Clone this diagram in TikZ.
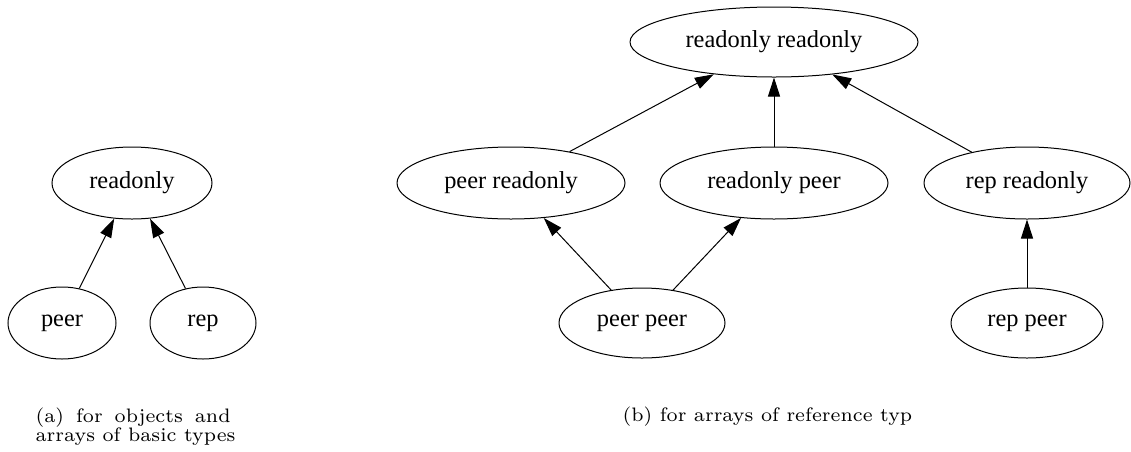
\documentclass[tikz,border=0pt]{standalone}
\usepackage{fontspec}
\newfontfamily\nodefont{Liberation Serif}
\usetikzlibrary{shapes.geometric,arrows.meta}
\begin{document}
\begin{tikzpicture}[x=1pt,y=-1pt,
  state/.style={ellipse, draw, line width=1pt, inner sep=0pt,
    font=\nodefont\fontsize{24.4}{28}\selectfont},
  edge/.style={line width=1pt, -{Triangle[length=19pt,width=12pt]}},
  caption/.style={font=\fontsize{7}{6.82}\selectfont, scale=2.786, inner sep=0pt}]
\useasboundingbox (0,0) rectangle (1131,451);

% (a) objects and arrays of basic types
\node[state, minimum width=160, minimum height=72] (ro)   at (132,183) {readonly};
\node[state, minimum width=108, minimum height=72] (peer) at (62,323)  {peer};
\node[state, minimum width=106, minimum height=72] (rep)  at (203,323) {rep};
\draw[edge] (peer) -- (ro);
\draw[edge] (rep) -- (ro);

% (b) arrays of reference types
\node[state, minimum width=288, minimum height=70] (rr)   at (774,42)   {readonly readonly};
\node[state, minimum width=228, minimum height=72] (pr)   at (511,183)  {peer readonly};
\node[state, minimum width=228, minimum height=72] (rp)   at (774,183)  {readonly peer};
\node[state, minimum width=206, minimum height=72] (repr) at (1027,183) {rep readonly};
\node[state, minimum width=166, minimum height=70] (pp)   at (642,323)  {peer peer};
\node[state, minimum width=152, minimum height=70] (repp) at (1027,323) {rep peer};
\draw[edge] (pr) -- (rr);
\draw[edge] (rp) -- (rr);
\draw[edge] (repr) -- (rr);
\draw[edge] (pp) -- (pr);
\draw[edge] (pp) -- (rp);
\draw[edge] (repp) -- (repr);

% captions
\node[caption, anchor=north west, align=left] (capa) at (35,407)
  {\makebox[70pt][s]{(a) for objects and}\\arrays of basic types};
\node[caption, anchor=base west] (capb) at (622,421) {(b) for arrays of reference typ};
\end{tikzpicture}
\end{document}
